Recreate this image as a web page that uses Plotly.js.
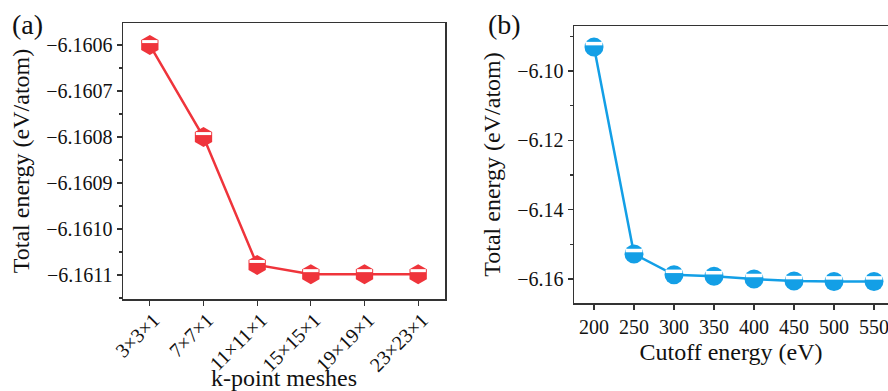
<!DOCTYPE html>
<html>
<head>
<meta charset="utf-8">
<script src="https://cdn.plot.ly/plotly-3.0.1.min.js"></script>
<style>
html, body { margin:0; padding:0; overflow:hidden; background:#fff; }
#chart { width:888px; height:391px; }
</style>
</head>
<body>
<div id="chart"></div>
<script>
// ---- data ----
const kMeshes = ['3×3×1','7×7×1','11×11×1','15×15×1','19×19×1','23×23×1'];
const kEnergy = [-6.16060, -6.16080, -6.161078, -6.161098, -6.161098, -6.161098];
const cutoff = [200, 250, 300, 350, 400, 450, 500, 550];
const cutEnergy = [-6.0931, -6.1528, -6.1588, -6.1592, -6.1600, -6.1606, -6.1607, -6.1607];
const yTitle = 'Total energy (eV/atom)';
const xTitleA = 'k-point meshes';
const xTitleB = 'Cutoff energy (eV)';

// ---- layout constants ----
const W = 888, H = 391;
const red = '#ef343b', blue = '#139fe6';
const FAM = 'Liberation Serif';
const rangeA = [-6.161152, -6.160552];
const rangeB = [-6.16693, -6.08701];
const pxA = 299 - 23, pxB = 303 - 26;
const shift = 3.5; // px upward for white band on markers
const dA = shift * (rangeA[1] - rangeA[0]) / pxA;
const dB = shift * (rangeB[1] - rangeB[0]) / pxB;

function tf(size) { return {family: FAM, size: size, color: '#111'}; }

const axisCommon = {
  showline: true, linecolor: '#333', linewidth: 1.5, mirror: true,
  ticks: 'outside', ticklen: 5, tickwidth: 1.3, tickcolor: '#333',
  showgrid: false, zeroline: false,
  automargin: false
};

const traces = [
  {x: kMeshes, y: kEnergy, xaxis: 'x', yaxis: 'y', mode: 'lines+markers',
   line: {color: red, width: 2.5},
   marker: {symbol: 'hexagon', size: 20, color: red, line: {width: 0}}},
  {x: kMeshes, y: kEnergy, xaxis: 'x', yaxis: 'y3', mode: 'markers',
   marker: {symbol: 'line-ew', size: 11, line: {color: '#fff', width: 3}}},
  {x: cutoff, y: cutEnergy, xaxis: 'x2', yaxis: 'y2', mode: 'lines+markers',
   line: {color: blue, width: 2.5},
   marker: {symbol: 'circle', size: 19, color: blue, line: {width: 0}}},
  {x: cutoff, y: cutEnergy, xaxis: 'x2', yaxis: 'y4', mode: 'markers',
   marker: {symbol: 'line-ew', size: 12, line: {color: '#fff', width: 3.5}}}
];

const layout = {
  width: W, height: H,
  margin: {l: 0, r: 0, t: 0, b: 0},
  paper_bgcolor: '#fff', plot_bgcolor: '#fff',
  showlegend: false,
  font: tf(20),
  xaxis: Object.assign({}, axisCommon, {
    domain: [123 / W, 445 / W], anchor: 'y', tickfont: tf(20),
    type: 'category', range: [-0.5, 5.5], tickangle: -45,
    ticklabelstandoff: -5, ticklabelshift: 4,
    title: {text: xTitleA, font: tf(24), standoff: 4}
  }),
  yaxis: Object.assign({}, axisCommon, {
    domain: [1 - 299 / H, 1 - 23 / H], anchor: 'x', tickfont: tf(20),
    range: rangeA, dtick: 0.0001, tick0: -6.1606, tickformat: '.4f',
    minor: {dtick: 0.00005, ticks: 'outside', ticklen: 3, tickcolor: '#333'},
    title: {text: yTitle, font: tf(24), standoff: 10}
  }),
  yaxis3: {overlaying: 'y', range: [rangeA[0] - dA, rangeA[1] - dA], visible: false, showgrid: false, zeroline: false},
  xaxis2: Object.assign({}, axisCommon, {
    domain: [574 / W, 1], anchor: 'y2', tickfont: tf(20),
    range: [175, 175 + (W - 574) / 0.8], dtick: 50, tick0: 200,
    ticklabeloverflow: 'allow',
    title: {text: xTitleB, font: tf(24), standoff: 6}
  }),
  yaxis2: Object.assign({}, axisCommon, {
    domain: [1 - 303 / H, 1 - 26 / H], anchor: 'x2', tickfont: tf(20),
    mirror: false,
    range: rangeB, dtick: 0.02, tick0: -6.10, tickformat: '.2f',
    minor: {dtick: 0.01, ticks: 'outside', ticklen: 3, tickcolor: '#333'},
    title: {text: yTitle, font: tf(24), standoff: 10}
  }),
  yaxis4: {overlaying: 'y2', range: [rangeB[0] - dB, rangeB[1] - dB], visible: false, showgrid: false, zeroline: false},
  annotations: [
    {text: '(a)', xref: 'paper', yref: 'paper', x: 10 / W, y: 1 - 25 / H,
     xanchor: 'left', yanchor: 'middle', showarrow: false, font: tf(28)},
    {text: '(b)', xref: 'paper', yref: 'paper', x: 486 / W, y: 1 - 25 / H,
     xanchor: 'left', yanchor: 'middle', showarrow: false, font: tf(28)}
  ]
};

Plotly.newPlot('chart', traces, layout, {staticPlot: true, displayModeBar: false});
</script>
</body>
</html>
